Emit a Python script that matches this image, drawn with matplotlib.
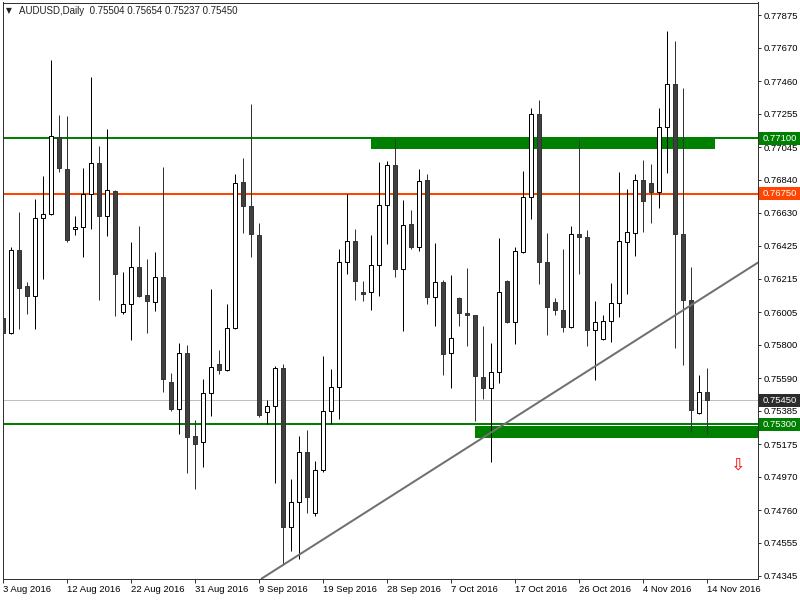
import matplotlib
matplotlib.use('Agg')
import matplotlib.pyplot as plt
from matplotlib.patches import Rectangle
from matplotlib.transforms import blended_transform_factory
import numpy as np

plt.rcParams['font.family'] = ['Liberation Sans', 'DejaVu Sans']

# AUDUSD daily, 3 Aug 2016 - 14 Nov 2016 (broker with sunday bars)
date_labels = ['3 Aug 2016', '12 Aug 2016', '22 Aug 2016', '31 Aug 2016', '9 Sep 2016', '19 Sep 2016',
               '28 Sep 2016', '7 Oct 2016', '17 Oct 2016', '26 Oct 2016', '4 Nov 2016', '14 Nov 2016']

opens = [0.75968, 0.75873, 0.76395, 0.76169, 0.76106, 0.76597, 0.76622, 0.77106, 0.76905, 0.76527,
         0.76540, 0.76748, 0.76943, 0.76609, 0.76767, 0.76005, 0.76056, 0.76289, 0.76113, 0.76068,
         0.76226, 0.75565, 0.75395, 0.75747, 0.75225, 0.75187, 0.75496, 0.75679, 0.75641, 0.75905,
         0.76823, 0.76672, 0.76490, 0.75376, 0.75414, 0.75654, 0.74653, 0.74810, 0.75124, 0.74741,
         0.75012, 0.75383, 0.75534, 0.76320, 0.76452, 0.76131, 0.76131, 0.76302, 0.76679, 0.76931,
         0.76276, 0.76559, 0.76414, 0.76836, 0.76100, 0.76194, 0.75747, 0.76094, 0.75999, 0.75987,
         0.75597, 0.75528, 0.75628, 0.76201, 0.75942, 0.76382, 0.76729, 0.77251, 0.76320, 0.76068,
         0.76018, 0.75911, 0.76496, 0.76477, 0.75892, 0.75835, 0.75949, 0.76062, 0.76445, 0.76502,
         0.76836, 0.76817, 0.76760, 0.77169, 0.77440, 0.76496, 0.76081, 0.75370, 0.75504]
highs = [0.76131, 0.76414, 0.76634, 0.76194, 0.76716, 0.76861, 0.77591, 0.77245, 0.77238, 0.76609,
         0.76912, 0.77484, 0.77049, 0.77156, 0.76775, 0.76257, 0.76445, 0.76546, 0.76338, 0.76382,
         0.76918, 0.75622, 0.75810, 0.75798, 0.75326, 0.75584, 0.76150, 0.75766, 0.76056, 0.76874,
         0.76975, 0.77314, 0.76565, 0.75452, 0.75666, 0.75679, 0.74955, 0.75225, 0.75263, 0.75069,
         0.75728, 0.75647, 0.76401, 0.76748, 0.76527, 0.76201, 0.76490, 0.76949, 0.76956, 0.77093,
         0.76710, 0.76647, 0.76905, 0.76874, 0.76439, 0.76207, 0.76239, 0.76100, 0.76283, 0.75990,
         0.75917, 0.75810, 0.76471, 0.76207, 0.76414, 0.76893, 0.77289, 0.77339, 0.76502, 0.76094,
         0.76401, 0.76546, 0.77087, 0.76521, 0.76075, 0.75987, 0.76188, 0.76886, 0.76779, 0.76874,
         0.76962, 0.76937, 0.77289, 0.77773, 0.77710, 0.77415, 0.76289, 0.75610, 0.75654]
lows = [0.75679, 0.75867, 0.75898, 0.75993, 0.75898, 0.76213, 0.76620, 0.76886, 0.76450, 0.76490,
        0.76351, 0.76527, 0.76081, 0.76483, 0.75980, 0.75993, 0.75829, 0.76100, 0.75873, 0.76012,
        0.75502, 0.75383, 0.75238, 0.74993, 0.74892, 0.75031, 0.75351, 0.75616, 0.75635, 0.75900,
        0.76502, 0.76351, 0.75345, 0.75301, 0.74930, 0.74415, 0.74502, 0.74451, 0.74741, 0.74722,
        0.74999, 0.75301, 0.75332, 0.76245, 0.76081, 0.76075, 0.76018, 0.76106, 0.76433, 0.76226,
        0.75886, 0.76401, 0.76389, 0.76056, 0.75917, 0.75610, 0.75528, 0.75917, 0.75791, 0.75320,
        0.75458, 0.75062, 0.75559, 0.75936, 0.75804, 0.76375, 0.76590, 0.76182, 0.75861, 0.75987,
        0.75879, 0.75905, 0.76245, 0.75791, 0.75578, 0.75829, 0.75816, 0.75974, 0.76119, 0.76357,
        0.76508, 0.76565, 0.76660, 0.76880, 0.75779, 0.75673, 0.75250, 0.75365, 0.75237]
closes = [0.75873, 0.76395, 0.76157, 0.76106, 0.76597, 0.76622, 0.77112, 0.76912, 0.76458, 0.76540,
          0.76748, 0.76943, 0.76609, 0.76773, 0.76245, 0.76056, 0.76289, 0.76106, 0.76075, 0.76226,
          0.75584, 0.75395, 0.75747, 0.75219, 0.75175, 0.75496, 0.75660, 0.75641, 0.75905, 0.76817,
          0.76672, 0.76496, 0.75358, 0.75414, 0.75654, 0.74653, 0.74810, 0.75124, 0.74842, 0.75012,
          0.75383, 0.75534, 0.76320, 0.76452, 0.76201, 0.76119, 0.76302, 0.76679, 0.76931, 0.76276,
          0.76553, 0.76414, 0.76830, 0.76100, 0.76194, 0.75741, 0.75842, 0.75999, 0.75987, 0.75603,
          0.75528, 0.75628, 0.76131, 0.75942, 0.76389, 0.76729, 0.77251, 0.76320, 0.76037, 0.76018,
          0.75911, 0.76496, 0.76477, 0.75892, 0.75942, 0.75949, 0.76062, 0.76452, 0.76508, 0.76836,
          0.76704, 0.76760, 0.77169, 0.77440, 0.76496, 0.76081, 0.75389, 0.75502, 0.75450]

y_ticks = [0.77875, 0.77670, 0.77460, 0.77255, 0.77045, 0.76840, 0.76630, 0.76425, 0.76215,
           0.76005, 0.75800, 0.75590, 0.75385, 0.75175, 0.74970, 0.74760, 0.74555, 0.74345]

# drawn objects: levels, zones (bar idx start/end, top, bottom), trendline anchors
resistance = 0.7710
pivot = 0.7675
support = 0.7530
bid = 0.75450
zone_top = (46, 89, 0.77100, 0.77032)
zone_bottom = (59, 120, 0.75288, 0.75216)
trend_p1 = (32.25, 0.74326)
trend_p2 = (94.25, 0.76314)
sell_arrow = (91.75, 0.75043)

W, H = 800, 600
px = 0.72  # one pixel in points

fig = plt.figure(figsize=(W / 100, H / 100), dpi=100)
ax = fig.add_axes([2.5 / W, (H - 578.5) / H, 755 / W, 576 / H])

x = np.arange(len(opens))
o = np.array(opens)
h = np.array(highs)
l = np.array(lows)
c = np.array(closes)
up = c >= o

# zones + lines under the candles
for z in (zone_top, zone_bottom):
    ax.add_patch(Rectangle((z[0], z[3]), z[1] - z[0], z[2] - z[3], facecolor='#008000',
                           edgecolor='none', zorder=1))
ax.axhline(resistance, color='#008000', lw=2 * px, zorder=2)
ax.axhline(support, color='#008000', lw=2 * px, zorder=2)
ax.axhline(pivot, color='#FF4500', lw=2 * px, zorder=2)
ax.axhline(bid, color='#C0C0C0', lw=1 * px, zorder=2)

# candles
ax.vlines(x[up], l[up], h[up], color='black', lw=1 * px, zorder=3)
ax.vlines(x[~up], l[~up], h[~up], color='#333333', lw=1 * px, zorder=3)
ax.bar(x[up], c[up] - o[up], bottom=o[up], width=0.55, facecolor='white',
       edgecolor='black', lw=1 * px, zorder=4)
ax.bar(x[~up], o[~up] - c[~up], bottom=c[~up], width=0.55, facecolor='#404040',
       edgecolor='#333333', lw=1 * px, zorder=4)

ax.axline(trend_p1, trend_p2, color='#707070', lw=2 * px, zorder=5)

ax.text(sell_arrow[0], sell_arrow[1], '\u21e9', color='red', fontsize=12.5,
        ha='center', va='center', zorder=6, family='DejaVu Sans')

ax.set_xlim(-0.0625, 94.31)
ax.set_ylim(0.74329, 0.77955)

ax.set_xticks(x[::8])
ax.set_xticklabels(date_labels, ha='left')
ax.set_yticks(y_ticks)
ax.set_yticklabels(['%.5f' % v for v in y_ticks])
ax.yaxis.tick_right()
ax.tick_params(axis='x', direction='out', length=4 * px, width=1 * px, pad=2,
               labelsize=6.8, color='#333333')
ax.tick_params(axis='y', direction='out', length=3 * px, width=1 * px, pad=2,
               labelsize=6.8, color='#333333')
for s in ax.spines.values():
    s.set_color('#333333')
    s.set_linewidth(1 * px)

# price boxes on the right scale
trans = blended_transform_factory(fig.transFigure, ax.transData)
for val, col in [(resistance, '#008000'), (pivot, '#FF4500'), (bid, '#2b2b2b'), (support, '#008000')]:
    fig.add_artist(Rectangle((758.5 / W, val - 0.00041), 41.5 / W, 0.00082, transform=trans,
                             facecolor=col, edgecolor='none', zorder=5))
    fig.text(762.5 / W, val, '%.5f' % val, transform=trans, color='white', fontsize=6.8,
             ha='left', va='center', zorder=6)

# header
fig.text(6 / W, 1 - 10.5 / H, '\u25bc', fontsize=5.5, color='#222222', va='center', family='DejaVu Sans')
fig.text(19 / W, 1 - 10.5 / H, 'AUDUSD,Daily  %.5f %.5f %.5f %.5f' % (opens[-1], highs[-1], lows[-1], closes[-1]),
         fontsize=7, color='#222222', va='center')

fig.savefig('out.png', dpi=100)
